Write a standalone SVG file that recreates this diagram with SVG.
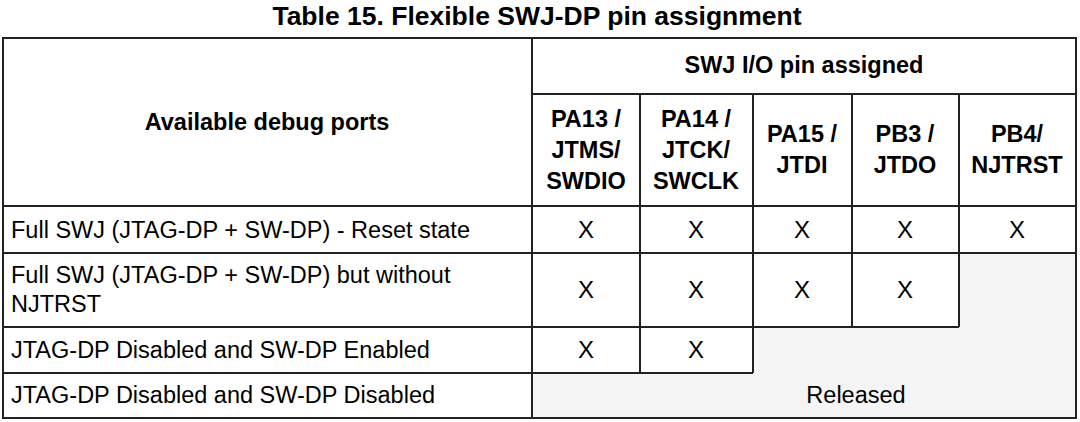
<svg xmlns="http://www.w3.org/2000/svg" width="1080" height="422" viewBox="0 0 1080 422">
<style>
text{font-family:"Liberation Sans",Arial,sans-serif;fill:#000}
.h{font-weight:bold;font-size:23.5px;text-anchor:middle}
.b{font-size:23.5px}
.x{font-size:24px;text-anchor:middle}
.ln{stroke:#222;stroke-width:2;fill:none}
</style>
<rect width="1080" height="422" fill="#fff"/>
<text x="537" y="25" class="h" style="font-size:26.5px">Table 15. Flexible SWJ-DP pin assignment</text>
<g id="grey" fill="#f5f5f5">
<rect x="959" y="253" width="117" height="165"/>
<rect x="753" y="327" width="323" height="91"/>
<rect x="532" y="373" width="544" height="45"/>
</g>
<g id="grid" class="ln">
<rect x="3" y="38" width="1073" height="380"/>
<line x1="532" y1="38" x2="532" y2="418"/>
<line x1="532" y1="94" x2="1076" y2="94"/>
<line x1="3" y1="206" x2="1076" y2="206"/>
<line x1="3" y1="253" x2="1076" y2="253"/>
<line x1="3" y1="327" x2="959" y2="327"/>
<line x1="3" y1="373" x2="753" y2="373"/>
<line x1="640" y1="94" x2="640" y2="373"/>
<line x1="753" y1="94" x2="753" y2="373"/>
<line x1="852" y1="94" x2="852" y2="327"/>
<line x1="959" y1="94" x2="959" y2="327"/>
</g>
<g id="headers">
<text x="267" y="130" class="h">Available debug ports</text>
<text x="804" y="73" class="h">SWJ I/O pin assigned</text>
<text class="h"><tspan x="586" y="127">PA13 /</tspan><tspan x="586" y="158">JTMS/</tspan><tspan x="586" y="189">SWDIO</tspan></text>
<text class="h"><tspan x="696" y="127">PA14 /</tspan><tspan x="696" y="158">JTCK/</tspan><tspan x="696" y="189">SWCLK</tspan></text>
<text class="h"><tspan x="802" y="142">PA15 /</tspan><tspan x="802" y="173">JTDI</tspan></text>
<text class="h"><tspan x="905" y="142">PB3 /</tspan><tspan x="905" y="173">JTDO</tspan></text>
<text class="h"><tspan x="1017" y="142">PB4/</tspan><tspan x="1017" y="173">NJTRST</tspan></text>
</g>
<g id="rows">
<text x="11" y="238" class="b">Full SWJ (JTAG-DP + SW-DP) - Reset state</text>
<text class="b"><tspan x="11" y="283">Full SWJ (JTAG-DP + SW-DP) but without</tspan><tspan x="11" y="312">NJTRST</tspan></text>
<text x="11" y="358" class="b">JTAG-DP Disabled and SW-DP Enabled</text>
<text x="11" y="403" class="b">JTAG-DP Disabled and SW-DP Disabled</text>
<text y="238" class="x"><tspan x="586">X</tspan><tspan x="696">X</tspan><tspan x="802">X</tspan><tspan x="905">X</tspan><tspan x="1017">X</tspan></text>
<text y="298" class="x"><tspan x="586">X</tspan><tspan x="696">X</tspan><tspan x="802">X</tspan><tspan x="905">X</tspan></text>
<text y="358" class="x"><tspan x="586">X</tspan><tspan x="696">X</tspan></text>
<text x="856" y="403" class="b" text-anchor="middle">Released</text>
</g>
</svg>
